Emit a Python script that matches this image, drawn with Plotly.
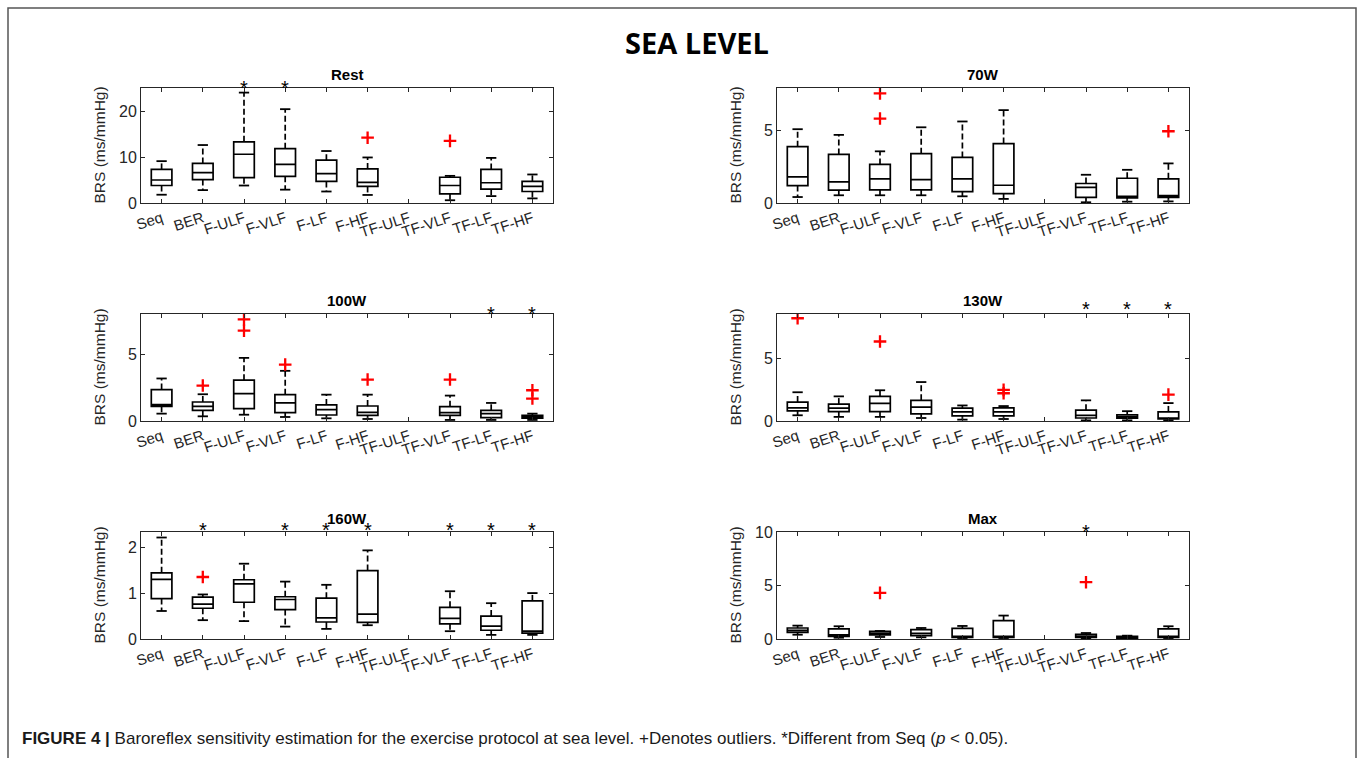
import plotly.graph_objects as go

# ---------------- data ----------------
CATEGORIES = ["Seq", "BER", "F-ULF", "F-VLF", "F-LF", "F-HF", "TF-ULF", "TF-VLF", "TF-LF", "TF-HF"]
PANEL_TITLES = ["Rest", "70W", "100W", "130W", "160W", "Max"]

REST_LOWER = [1.8, 2.8, 3.8, 2.9, 2.5, 1.75, None, 0.6, 1.5, 1.0]
REST_Q1 = [3.8, 5.1, 5.5, 5.8, 4.7, 3.6, None, 2.0, 3.0, 2.5]
REST_MEDIAN = [5.0, 6.6, 10.6, 8.4, 6.4, 4.5, None, 3.8, 4.4, 3.6]
REST_Q3 = [7.3, 8.6, 13.3, 11.8, 9.3, 7.4, None, 5.6, 7.3, 4.7]
REST_UPPER = [9.1, 12.6, 24.0, 20.4, 11.3, 9.9, None, 5.9, 9.8, 6.2]
REST_OUT_CAT = ["F-HF", "TF-VLF"]
REST_OUT_VAL = [14.2, 13.5]
REST_STARS = ["F-ULF", "F-VLF"]

W70_LOWER = [0.41, 0.53, 0.53, 0.53, 0.46, 0.28, None, 0.05, 0.09, 0.11]
W70_Q1 = [1.2, 0.88, 0.9, 0.9, 0.78, 0.65, None, 0.39, 0.35, 0.39]
W70_MEDIAN = [1.8, 1.45, 1.66, 1.61, 1.66, 1.22, None, 1.08, 0.46, 0.5]
W70_Q3 = [3.87, 3.34, 2.65, 3.39, 3.13, 4.08, None, 1.34, 1.7, 1.66]
W70_UPPER = [5.07, 4.68, 3.55, 5.2, 5.6, 6.38, None, 1.94, 2.28, 2.72]
W70_OUT_CAT = ["F-ULF", "F-ULF", "TF-HF"]
W70_OUT_VAL = [7.53, 5.8, 4.93]
W70_STARS = []

W100_LOWER = [0.55, 0.35, 0.47, 0.3, 0.2, 0.15, None, 0.08, 0.08, 0.08]
W100_Q1 = [1.1, 0.8, 0.92, 0.62, 0.45, 0.42, None, 0.42, 0.25, 0.22]
W100_MEDIAN = [1.22, 1.1, 2.05, 1.35, 0.85, 0.65, None, 0.62, 0.55, 0.3]
W100_Q3 = [2.35, 1.42, 3.05, 1.97, 1.2, 1.12, None, 1.07, 0.8, 0.42]
W100_UPPER = [3.18, 2.0, 4.72, 3.75, 1.97, 1.97, None, 1.9, 1.35, 0.55]
W100_OUT_CAT = ["BER", "F-ULF", "F-ULF", "F-VLF", "F-HF", "TF-VLF", "TF-HF", "TF-HF"]
W100_OUT_VAL = [2.65, 7.6, 6.75, 4.22, 3.1, 3.1, 2.3, 1.68]
W100_STARS = ["TF-LF", "TF-HF"]

W130_LOWER = [0.46, 0.33, 0.33, 0.24, 0.11, 0.16, None, 0.05, 0.05, 0.05]
W130_Q1 = [0.82, 0.76, 0.76, 0.57, 0.41, 0.41, None, 0.24, 0.22, 0.16]
W130_MEDIAN = [1.06, 1.03, 1.41, 1.11, 0.73, 0.73, None, 0.46, 0.33, 0.24]
W130_Q3 = [1.52, 1.36, 1.98, 1.66, 1.03, 1.06, None, 0.87, 0.49, 0.73]
W130_UPPER = [2.31, 1.98, 2.47, 3.13, 1.25, 1.2, None, 1.66, 0.79, 1.44]
W130_OUT_CAT = ["Seq", "F-ULF", "F-HF", "F-HF", "TF-HF"]
W130_OUT_VAL = [8.26, 6.39, 2.5, 2.23, 2.12]
W130_STARS = ["TF-VLF", "TF-LF", "TF-HF"]

W160_LOWER = [0.61, 0.41, 0.39, 0.27, 0.22, 0.3, None, 0.17, 0.09, 0.09]
W160_Q1 = [0.88, 0.67, 0.8, 0.64, 0.37, 0.36, None, 0.33, 0.19, 0.13]
W160_MEDIAN = [1.3, 0.76, 1.2, 0.86, 0.46, 0.54, None, 0.45, 0.28, 0.17]
W160_Q3 = [1.44, 0.91, 1.29, 0.92, 0.89, 1.49, None, 0.69, 0.5, 0.83]
W160_UPPER = [2.21, 0.97, 1.64, 1.25, 1.18, 1.93, None, 1.04, 0.78, 1.0]
W160_OUT_CAT = ["BER"]
W160_OUT_VAL = [1.35]
W160_STARS = ["BER", "F-VLF", "F-LF", "F-HF", "TF-VLF", "TF-LF", "TF-HF"]

MAX_LOWER = [0.4, 0.12, 0.19, 0.16, 0.09, 0.09, None, 0.06, 0.03, 0.09]
MAX_Q1 = [0.62, 0.25, 0.38, 0.31, 0.16, 0.16, None, 0.16, 0.09, 0.16]
MAX_MEDIAN = [0.81, 0.38, 0.53, 0.53, 0.25, 0.25, None, 0.25, 0.16, 0.25]
MAX_Q3 = [1.03, 0.94, 0.72, 0.87, 1.0, 1.72, None, 0.44, 0.25, 0.94]
MAX_UPPER = [1.25, 1.19, 0.75, 1.03, 1.22, 2.19, None, 0.56, 0.31, 1.19]
MAX_OUT_CAT = ["F-ULF", "TF-VLF"]
MAX_OUT_VAL = [4.31, 5.31]
MAX_STARS = ["TF-VLF"]

Y_RANGES = [[0, 25], [0, 7.9], [0, 8], [0, 8.6], [0, 2.33], [0, 10]]
Y_TICKS = [[0, 10, 20], [0, 5], [0, 5], [0, 5], [0, 1, 2], [0, 5, 10]]
STAR_Y = [26.1, 8.3, 8.35, 9.4, 2.48, 10.5]

PANELS = [
    (REST_LOWER, REST_Q1, REST_MEDIAN, REST_Q3, REST_UPPER, REST_OUT_CAT, REST_OUT_VAL, REST_STARS),
    (W70_LOWER, W70_Q1, W70_MEDIAN, W70_Q3, W70_UPPER, W70_OUT_CAT, W70_OUT_VAL, W70_STARS),
    (W100_LOWER, W100_Q1, W100_MEDIAN, W100_Q3, W100_UPPER, W100_OUT_CAT, W100_OUT_VAL, W100_STARS),
    (W130_LOWER, W130_Q1, W130_MEDIAN, W130_Q3, W130_UPPER, W130_OUT_CAT, W130_OUT_VAL, W130_STARS),
    (W160_LOWER, W160_Q1, W160_MEDIAN, W160_Q3, W160_UPPER, W160_OUT_CAT, W160_OUT_VAL, W160_STARS),
    (MAX_LOWER, MAX_Q1, MAX_MEDIAN, MAX_Q3, MAX_UPPER, MAX_OUT_CAT, MAX_OUT_VAL, MAX_STARS),
]

# ---------------- layout geometry (pixels) ----------------
W, H = 1360, 758
COLS = [(141, 553), (777, 1189)]
ROWS = [(88, 203), (314, 421), (532, 639)]
BOX_W = 0.5
CAP_HALF = 0.125
AX_COLOR = "#262626"
FONT = "Liberation Sans, Arial, sans-serif"

pos_of = {c: i + 1 for i, c in enumerate(CATEGORIES)}

fig = go.Figure()
annotations = []

for p, (lo, q1, md, q3, up, ocat, oval, stars) in enumerate(PANELS):
    n = p + 1
    xa, ya = ("x" if n == 1 else f"x{n}"), ("y" if n == 1 else f"y{n}")
    idx = [i for i in range(len(CATEGORIES)) if md[i] is not None]
    xs = [i + 1 for i in idx]

    fig.add_trace(go.Box(
        x=xs, q1=[q1[i] for i in idx], median=[md[i] for i in idx], q3=[q3[i] for i in idx],
        lowerfence=[q1[i] for i in idx], upperfence=[q3[i] for i in idx],
        width=BOX_W, whiskerwidth=0, boxpoints=False,
        line=dict(color="black", width=1.7), fillcolor="rgba(0,0,0,0)",
        xaxis=xa, yaxis=ya, showlegend=False, hoverinfo="skip"))

    wx, wy, cx, cy = [], [], [], []
    for i in idx:
        x = i + 1
        wx += [x, x, None, x, x, None]
        wy += [q3[i], up[i], None, q1[i], lo[i], None]
        cx += [x - CAP_HALF, x + CAP_HALF, None, x - CAP_HALF, x + CAP_HALF, None]
        cy += [up[i], up[i], None, lo[i], lo[i], None]
    fig.add_trace(go.Scatter(x=wx, y=wy, mode="lines", line=dict(color="black", width=1.7, dash="6px,3px"),
                             xaxis=xa, yaxis=ya, showlegend=False, hoverinfo="skip"))
    fig.add_trace(go.Scatter(x=cx, y=cy, mode="lines", line=dict(color="black", width=1.8),
                             xaxis=xa, yaxis=ya, showlegend=False, hoverinfo="skip"))

    if ocat:
        fig.add_trace(go.Scatter(x=[pos_of[c] for c in ocat], y=oval, mode="markers",
                                 marker=dict(symbol="cross-thin", size=9, line=dict(color="#ff0000", width=2.3)),
                                 xaxis=xa, yaxis=ya, showlegend=False, hoverinfo="skip"))
    ymin, ymax = Y_RANGES[p]
    for c in stars:
        annotations.append(dict(text="*", x=pos_of[c], xref=xa,
                                y=(STAR_Y[p] - ymin) / (ymax - ymin), yref=f"{ya} domain",
                                xanchor="center", yanchor="middle", yshift=-5, showarrow=False,
                                font=dict(family=FONT, size=20, color="black")))

    col, row = p % 2, p // 2
    x0, x1 = COLS[col]
    top, bot = ROWS[row]
    xdom = [x0 / W, x1 / W]
    ydom = [1 - bot / H, 1 - top / H]
    axis_common = dict(showline=True, linecolor=AX_COLOR, linewidth=1, mirror="ticks", ticks="inside",
                       ticklen=4, tickcolor=AX_COLOR, showgrid=False, zeroline=False, automargin=False)
    fig.update_layout(**{
        ("xaxis" if n == 1 else f"xaxis{n}"): dict(domain=xdom, range=[0.5, 10.5],
                                                    tickvals=list(range(1, 11)), ticktext=CATEGORIES,
                                                    tickangle=-18, anchor=ya,
                                                    tickfont=dict(family=FONT, size=15, color=AX_COLOR),
                                                    **axis_common),
        ("yaxis" if n == 1 else f"yaxis{n}"): dict(domain=ydom, range=Y_RANGES[p], tickvals=Y_TICKS[p],
                                                    anchor=xa,
                                                    tickfont=dict(family=FONT, size=16, color=AX_COLOR),
                                                    **axis_common),
    })
    annotations.append(dict(text=f"<b>{PANEL_TITLES[p]}</b>", xref="paper", yref="paper",
                            x=(x0 + x1) / 2 / W, y=1 - (top - 3) / H, xanchor="center", yanchor="bottom",
                            showarrow=False, font=dict(family=FONT, size=15, color="black")))
    annotations.append(dict(text="BRS (ms/mmHg)", xref="paper", yref="paper", textangle=-90,
                            x=(x0 - 42) / W, y=1 - (top + bot) / 2 / H, xanchor="center", yanchor="middle",
                            showarrow=False, font=dict(family=FONT, size=15.5, color=AX_COLOR)))

annotations.append(dict(text="<b>SEA LEVEL</b>", xref="paper", yref="paper", x=697 / W, y=1 - 42 / H,
                        xanchor="center", yanchor="middle", showarrow=False,
                        font=dict(family="Open Sans, sans-serif", size=29, color="black")))
annotations.append(dict(
    text="<b>FIGURE 4 |</b> Baroreflex sensitivity estimation for the exercise protocol at sea level. "
         "+Denotes outliers. *Different from Seq (<i>p</i> &lt; 0.05).",
    xref="paper", yref="paper", x=20 / W, y=1 - 738 / H, xanchor="left", yanchor="middle",
    showarrow=False, font=dict(family=FONT, size=17, color="#1a1a1a")))

fig.update_layout(
    autosize=True, margin=dict(l=0, r=0, t=0, b=0, pad=0, autoexpand=False),
    paper_bgcolor="white", plot_bgcolor="white",
    annotations=annotations,
    shapes=[dict(type="rect", xref="paper", yref="paper", x0=8 / W, x1=1356 / W, y0=-0.05, y1=1 - 8 / H,
                 line=dict(color="#555555", width=1.5), fillcolor="rgba(0,0,0,0)", layer="below")],
)

fig.write_html("out.html", config={"displayModeBar": False},
               default_width=f"{W}px",
               default_height=f"{H}px;position:fixed;left:0;top:0;margin:0",
               post_script="document.body.style.margin='0';document.body.style.overflow='hidden';")
